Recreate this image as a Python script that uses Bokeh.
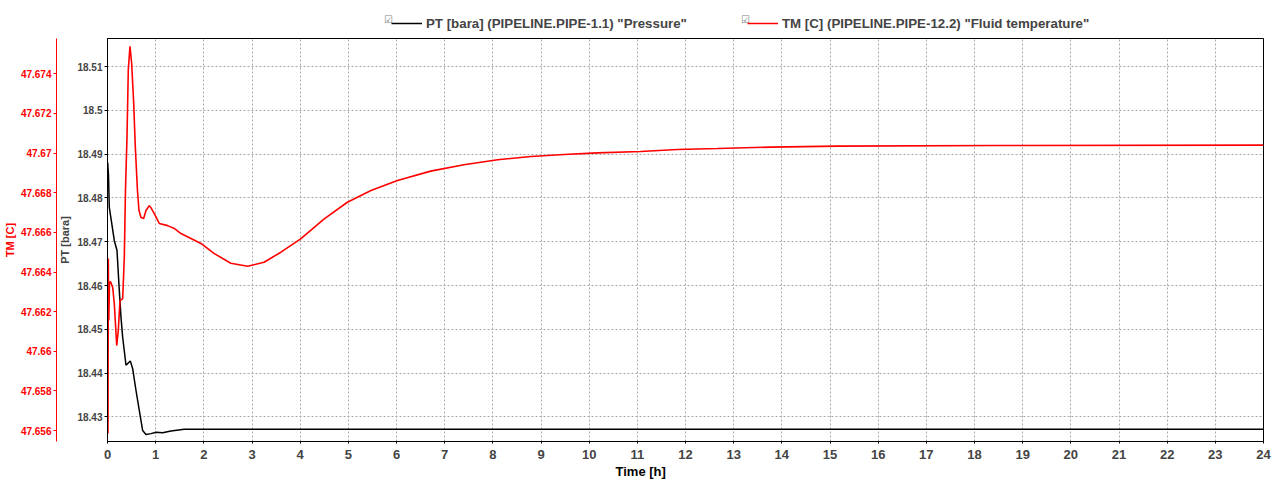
from bokeh.plotting import figure
from bokeh.layouts import column
from bokeh.models import (Range1d, LinearAxis, FixedTicker, CustomJSTickFormatter,
                          Legend, LegendItem, Label, Title)
from bokeh.embed import file_html
from bokeh.resources import INLINE

# ---------------- data ----------------
time_pt = [0.004, 0.021, 0.037, 0.141, 0.197, 0.245, 0.28, 0.315, 0.384, 0.473,
           0.523, 0.591, 0.66, 0.73, 0.799, 0.902, 1.006, 1.145, 1.317, 1.593,
           2.5, 6.0, 12.0, 18.0, 24.0]
pt_bara = [18.4881, 18.4851, 18.4779, 18.4703, 18.4680, 18.4589, 18.4528, 18.4482,
           18.4418, 18.4428, 18.4410, 18.4361, 18.4315, 18.4269, 18.4260, 18.4262,
           18.4265, 18.4264, 18.4268, 18.4272, 18.4272, 18.4272, 18.4272, 18.4272,
           18.4272]

time_tm = [0.01, 0.017, 0.027, 0.041, 0.062, 0.108, 0.141, 0.191, 0.224, 0.259,
           0.315, 0.349, 0.373, 0.405, 0.432, 0.467, 0.502, 0.544, 0.577, 0.622,
           0.654, 0.695, 0.751, 0.799, 0.867, 0.913, 0.971, 1.075, 1.249, 1.386,
           1.525, 1.732, 1.94, 2.21, 2.56, 2.91, 3.25, 3.6, 4.01, 4.5,
           4.98, 5.47, 6.02, 6.71, 7.4, 8.1, 8.79, 9.48, 10.17, 11.07,
           11.83, 12.66, 13.77, 15.15, 18.47, 24.0]
tm_c = [47.65585, 47.66468, 47.66155, 47.66347, 47.66352, 47.66322, 47.66241, 47.66029,
        47.66105, 47.66256, 47.66266, 47.66473, 47.66811, 47.67084, 47.67422, 47.67538,
        47.67452, 47.67250, 47.67033, 47.66811, 47.66710, 47.66675, 47.66670, 47.66710,
        47.66735, 47.66720, 47.66695, 47.66645, 47.66634, 47.66620, 47.66594, 47.66569,
        47.66544, 47.66494, 47.66444, 47.66429, 47.66449, 47.66500, 47.66567, 47.66668,
        47.66752, 47.66811, 47.66862, 47.66909, 47.66941, 47.66966, 47.66983, 47.66993,
        47.67001, 47.67008, 47.67018, 47.67023, 47.67030, 47.67035, 47.67038, 47.67040]

x_ticks = list(range(0, 25))
pt_ticks = [18.43, 18.44, 18.45, 18.46, 18.47, 18.48, 18.49, 18.50, 18.51]
tm_ticks = [47.656, 47.658, 47.660, 47.662, 47.664, 47.666, 47.668, 47.670,
            47.672, 47.674]

x_title = "Time [h]"
pt_title = "PT [bara]"
tm_title = "TM [C]"
pt_legend = 'PT [bara] (PIPELINE.PIPE-1.1) "Pressure"'
tm_legend = 'TM [C] (PIPELINE.PIPE-12.2) "Fluid temperature"'

FONT = "Liberation Sans"
W = 1280
TOP_H = 37
MAIN_H = 446

# ---------------- main figure ----------------
p = figure(width=W, height=MAIN_H, output_backend="svg", toolbar_location=None,
           x_range=Range1d(0, 24), y_range=Range1d(18.4244, 18.5164),
           min_border_left=0, min_border_right=17, min_border_top=1,
           min_border_bottom=42)
p.extra_y_ranges = {"tm": Range1d(47.65545, 47.67578)}
p.background_fill_color = "white"
p.border_fill_color = "white"
p.outline_line_color = "black"
p.outline_line_width = 1

fmt = CustomJSTickFormatter(code="return Number(tick.toFixed(4)).toString();")

# x axis
xa = p.xaxis[0]
xa.ticker = FixedTicker(ticks=x_ticks)
xa.major_label_text_font = FONT
xa.major_label_text_font_style = "bold"
xa.major_label_text_font_size = "13px"
xa.major_label_standoff = 6
xa.major_tick_out = 2
xa.major_tick_in = 0
xa.minor_tick_out = 0
xa.minor_tick_in = 0
xa.axis_line_color = "black"

# x title, placed like the reference (centred on the page, not on the frame)
p.add_layout(Title(text=x_title, align="left", offset=508, standoff=0,
                   text_font=FONT, text_font_style="bold", text_font_size="13px",
                   text_color="black"), "below")

# PT axis (inner left)
ya = p.yaxis[0]
ya.ticker = FixedTicker(ticks=pt_ticks)
ya.formatter = fmt
ya.axis_label = pt_title
ya.axis_label_text_font = FONT
ya.axis_label_text_font_style = "bold"
ya.axis_label_text_font_size = "11px"
ya.axis_label_standoff = 3
ya.major_label_text_font = FONT
ya.major_label_text_font_style = "bold"
ya.major_label_text_font_size = "10px"
ya.major_label_standoff = 2
ya.major_tick_out = 3
ya.major_tick_in = 0
ya.minor_tick_out = 0
ya.minor_tick_in = 0
ya.axis_line_color = "black"

# TM axis (outer left, red)
ta = LinearAxis(y_range_name="tm", ticker=FixedTicker(ticks=tm_ticks), formatter=fmt,
                axis_label=tm_title)
ta.axis_label_text_font = FONT
ta.axis_label_text_font_style = "bold"
ta.axis_label_text_font_size = "11px"
ta.axis_label_text_color = "red"
ta.axis_label_standoff = 2
ta.major_label_text_font = FONT
ta.major_label_text_font_style = "bold"
ta.major_label_text_font_size = "10px"
ta.major_label_text_color = "red"
ta.major_label_standoff = 2
ta.major_tick_out = 3
ta.major_tick_in = 0
ta.major_tick_line_color = "red"
ta.minor_tick_out = 0
ta.minor_tick_in = 0
ta.axis_line_color = "red"
p.add_layout(ta, "left")

# grids
p.xgrid.ticker = FixedTicker(ticks=x_ticks)
p.ygrid.ticker = FixedTicker(ticks=pt_ticks)
for g in (p.xgrid, p.ygrid):
    g.grid_line_color = "#a8a8a8"
    g.grid_line_dash = "2 2"
    g.grid_line_width = 1

# lines
p.line(time_pt, pt_bara, line_color="black", line_width=1.5)
p.line(time_tm, tm_c, line_color="red", line_width=1.6, y_range_name="tm")

# ---------------- legend strip on top ----------------
top = figure(width=W, height=TOP_H, output_backend="svg", toolbar_location=None,
             x_axis_type=None, y_axis_type=None, x_range=Range1d(0, 24),
             y_range=Range1d(0, 1), min_border=0)
top.outline_line_color = None
top.xgrid.visible = False
top.ygrid.visible = False
top.border_fill_color = "white"
top.background_fill_color = "white"
# same series, outside this strip's visible range: only their legend glyphs show
l_pt = top.line(time_pt, pt_bara, line_color="black", line_width=1.5)
l_tm = top.line(time_tm, tm_c, line_color="red", line_width=1.5)

legend = Legend(items=[LegendItem(label=pt_legend, renderers=[l_pt]),
                       LegendItem(label=tm_legend, renderers=[l_tm])],
                orientation="horizontal", location=(284, 6),
                margin=0, padding=4, spacing=60, label_standoff=4,
                glyph_width=31, glyph_height=16, label_height=16,
                label_text_font=FONT, label_text_font_style="bold",
                label_text_font_size="13.3px", border_line_color=None,
                background_fill_alpha=0)
top.add_layout(legend, "center")

for xs in (281, 638):
    top.add_layout(Label(x=xs, y=18, x_units="screen", y_units="screen", text="☑",
                         text_font="DejaVu Sans", text_font_size="10px",
                         text_color="#808080", text_align="center",
                         text_baseline="middle"))

layout = column(top, p, spacing=0)
open("out.html", "w").write(file_html(layout, INLINE))
